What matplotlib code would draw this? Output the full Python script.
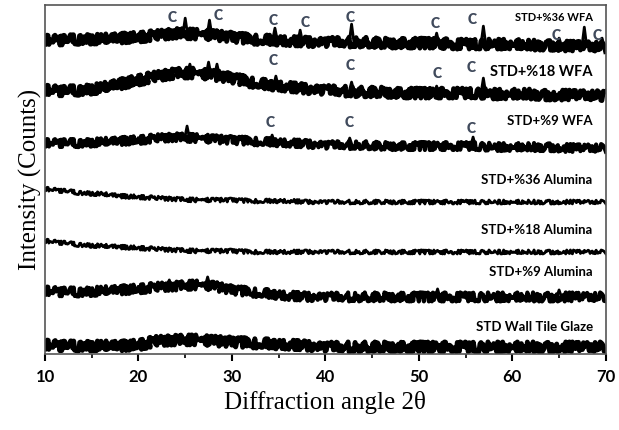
import matplotlib.pyplot as plt
import numpy as np

# XRD patterns, stacked (intensity in arbitrary counts, offset per pattern)
angles = list(range(10, 71, 2))

names = ['STD+%36 WFA', 'STD+%18 WFA', 'STD+%9 WFA', 'STD+%36 Alumina',
         'STD+%18 Alumina', 'STD+%9 Alumina', 'STD Wall Tile Glaze']

wfa36 = [314, 314, 315, 315, 316, 317, 319, 321, 320, 319, 317, 315, 314, 313, 312, 312,
         312, 312, 311, 311, 311, 311, 310, 310, 310, 310, 309, 309, 308, 308, 307]
wfa18 = [264, 263, 264, 266, 270, 274, 278, 281, 281, 279, 276, 272, 269, 267, 265, 264,
         263, 262, 262, 261, 261, 261, 261, 261, 260, 260, 260, 259, 259, 259, 258]
wfa9 = [211, 211, 211, 212, 213, 214, 216, 217, 216, 215, 214, 213, 212, 211, 210, 209,
        209, 209, 208, 208, 208, 208, 208, 208, 207, 207, 207, 207, 206, 206, 206]
alu36 = [165, 163, 161, 160, 158, 157, 156, 155, 154, 154, 154, 153, 153, 153, 152, 152,
         152, 152, 152, 152, 152, 152, 152, 152, 152, 152, 152, 152, 152, 152, 152]
alu18 = [113, 111, 109, 108, 107, 106, 105, 104, 103, 103, 103, 102, 102, 102, 102, 102,
         102, 102, 102, 102, 102, 102, 102, 102, 102, 102, 102, 102, 102, 102, 102]
alu9 = [63, 62, 62, 63, 64, 65, 67, 68, 69, 68, 64, 62, 60, 58, 57, 57,
        57, 57, 57, 57, 57, 57, 57, 57, 57, 57, 57, 57, 57, 57, 57]
glaze = [9, 8, 8, 8, 8, 9, 13, 14, 14, 13, 12, 11, 10, 9, 8, 7,
         7, 7, 7, 7, 7, 7, 7, 7, 7, 7, 7, 7, 7, 7, 7]
patterns = [wfa36, wfa18, wfa9, alu36, alu18, alu9, glaze]

# sharp reflections: position, top, foot
peaks = {
    0: ([25.0, 27.6, 34.6, 37.3, 42.8, 51.9, 56.9, 65.0, 67.7, 69.6],
        [336, 334, 326, 324, 330, 321, 328, 316, 327, 316],
        [320, 319, 314, 312, 312, 311, 310, 309, 308, 307]),
    1: ([25.5, 27.5, 28.4, 34.7, 42.8, 51.9, 56.9],
        [290, 292, 290, 278, 272, 268, 276],
        [281, 280, 279, 268, 263, 261, 261]),
    2: ([25.2, 34.3, 42.6, 55.8],
        [228, 219, 216, 217],
        [216, 212, 209, 208]),
    5: ([23.3, 27.4, 52.0, 65.0],
        [74, 77, 65, 64],
        [67, 68, 57, 57]),
}

# crystalline phase markers "C"
c_marks = {
    0: ([23.6, 28.5, 34.4, 37.8, 42.6, 51.7, 55.7, 64.7, 69.1],
        [337, 339, 334, 332, 337, 331, 335, 319, 319]),
    1: ([34.4, 42.6, 51.9, 55.6],
        [294, 289, 281, 287]),
    2: ([34.1, 42.5, 55.6],
        [232, 232, 226]),
}
label_y = [337, 282, 233, 174, 124, 82, 27]
label_size = [8, 10.5, 9.5, 9.5, 9.5, 9.5, 9.5]

widths = [3.5, 3.5, 3, 2, 2, 3, 3.5]
jitter = [5, 5, 4, 2, 2, 4.5, 5]

fig = plt.figure(figsize=(6.19, 4.30), dpi=100)
ax = fig.add_axes([0.0727, 0.177, 0.906, 0.811])

for i, y in enumerate(patterns):
    ln, = ax.plot(angles, y, color='black', lw=widths[i])
    ln.set_sketch_params(scale=jitter[i], length=1.0, randomness=3)
    if i in peaks:
        px, top, foot = peaks[i]
        for p, t, f in zip(px, top, foot):
            ax.plot([p - 0.25, p, p + 0.25], [f, t, f], color='black', lw=2)
    if i in c_marks:
        for cx, cy in zip(*c_marks[i]):
            ax.text(cx, cy, 'C', ha='center', va='center', fontsize=10,
                    fontweight='heavy', color='#404a5c', family='Lato')
    ax.text(68.6, label_y[i], names[i], ha='right', va='center',
            fontsize=label_size[i], fontweight='bold', family='Lato')

ax.set_xlim(10, 70)
ax.set_ylim(0, 349)
ax.set_yticks([])
ax.set_xticks(range(10, 71, 10))
ax.set_xticks(range(15, 70, 10), minor=True)
ax.tick_params(axis='x', direction='out', length=5, width=1.5, labelsize=12, pad=6)
ax.tick_params(axis='x', which='minor', direction='out', length=3, width=1.2)
for lab in ax.get_xticklabels():
    lab.set_fontweight('bold')
    lab.set_family('Lato')
for s in ax.spines.values():
    s.set_color('#555555')
    s.set_linewidth(1.2)

ax.set_xlabel('Diffraction angle 2θ', family='Liberation Serif', fontsize=18, labelpad=4)
ax.set_ylabel('Intensity (Counts)', family='Liberation Serif', fontsize=18, labelpad=2)

plt.savefig('out.png', dpi=100)
